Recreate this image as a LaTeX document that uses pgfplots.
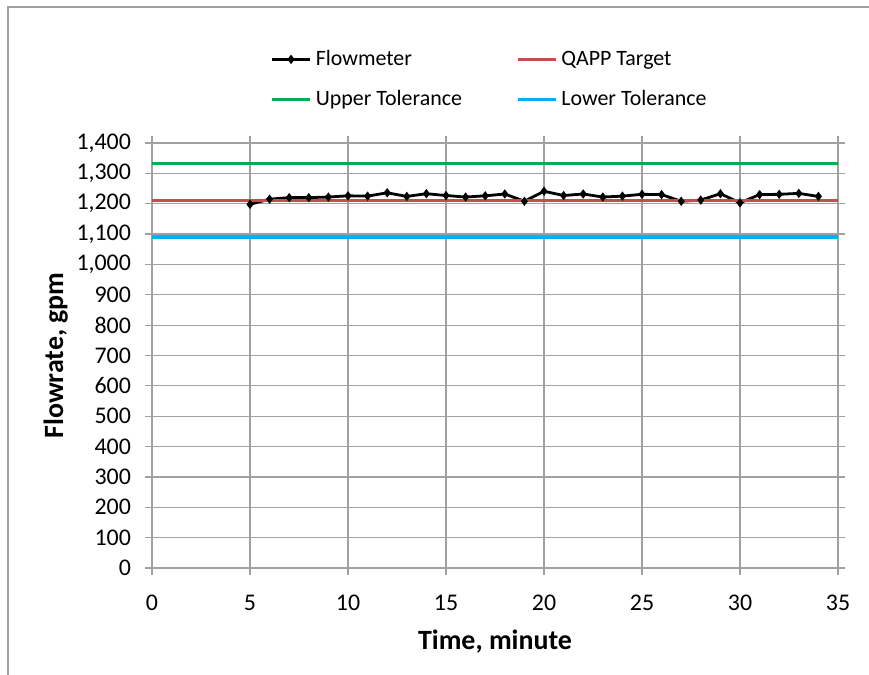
\documentclass[border=0pt]{standalone}
\usepackage{pgfplots}
\pgfplotsset{compat=1.18}
\usepackage{fontspec}
\setmainfont{Carlito}
\definecolor{qred}{RGB}{192,80,77}
\definecolor{qgreen}{RGB}{0,176,80}
\definecolor{qblue}{RGB}{0,176,240}
\definecolor{gridgray}{RGB}{160,160,160}
\begin{document}
\begin{tikzpicture}
\path[use as bounding box] (-76bp,-53.5bp) rectangle (358.5bp,284bp);
\draw[gridgray, line width=0.8bp] (-72bp,-70bp) -- (-72bp,280.5bp) -- (400bp,280.5bp);
\begin{axis}[
  scale only axis,
  width=343bp, height=212.5bp,
  xmin=0, xmax=35, ymin=0, ymax=1400,
  xtick={0,5,...,35},
  ytick={0,100,...,1400},
  grid=major,
  grid style={gridgray, line width=0.6bp},
  axis line style={gridgray, line width=0.6bp},
  tick style={gridgray, line width=0.6bp},
  tick align=outside,
  major tick length=3.5bp,
  /pgf/number format/assume math mode=true,
  /pgf/number format/1000 sep={,},
  ticklabel style={font=\fontsize{12}{14}\selectfont, text=black},
  xticklabel style={yshift=-6.5bp},
  yticklabel style={xshift=-3.5bp},
  xlabel={Time, minute},
  ylabel={Flowrate, gpm},
  label style={font=\fontsize{14}{16}\selectfont\bfseries},
  xlabel style={yshift=-3bp},
  ylabel style={yshift=-2.5bp},
  legend columns=2,
  legend cell align=left,
  legend style={draw=none, fill=none, at={(0,1)}, anchor=north west,
    xshift=56bp, yshift=51bp,
    font=\fontsize{11}{13}\selectfont,
    nodes={inner sep=2bp, text height=8bp, text depth=2bp},
    row sep=6bp,
    /tikz/every even column/.append style={column sep=25bp}},
  legend image code/.code={
    \draw[#1] (0bp,0bp) -- (19bp,0bp);
    \draw[#1, only marks] plot coordinates {(9.5bp,0bp)};
  },
]
\addplot[black, line width=1.4bp, mark=diamond*, mark size=1.2bp] coordinates {
(5,1198) (6,1215) (7,1220) (8,1220) (9,1222) (10,1226) (11,1225) (12,1236)
(13,1224) (14,1233) (15,1227) (16,1222) (17,1226) (18,1232) (19,1208) (20,1241)
(21,1227) (22,1232) (23,1222) (24,1225) (25,1231) (26,1230) (27,1208) (28,1212)
(29,1233) (30,1203) (31,1230) (32,1231) (33,1234) (34,1224)
};
\addlegendentry{Flowmeter}
\addplot[qred, line width=1.7bp, mark=none] coordinates {(0,1211) (35,1211)};
\addlegendentry{QAPP Target}
\addplot[qgreen, line width=1.7bp, mark=none] coordinates {(0,1332) (35,1332)};
\addlegendentry{Upper Tolerance}
\addplot[qblue, line width=1.7bp, mark=none] coordinates {(0,1090) (35,1090)};
\addlegendentry{Lower Tolerance}
\end{axis}
\end{tikzpicture}
\end{document}
